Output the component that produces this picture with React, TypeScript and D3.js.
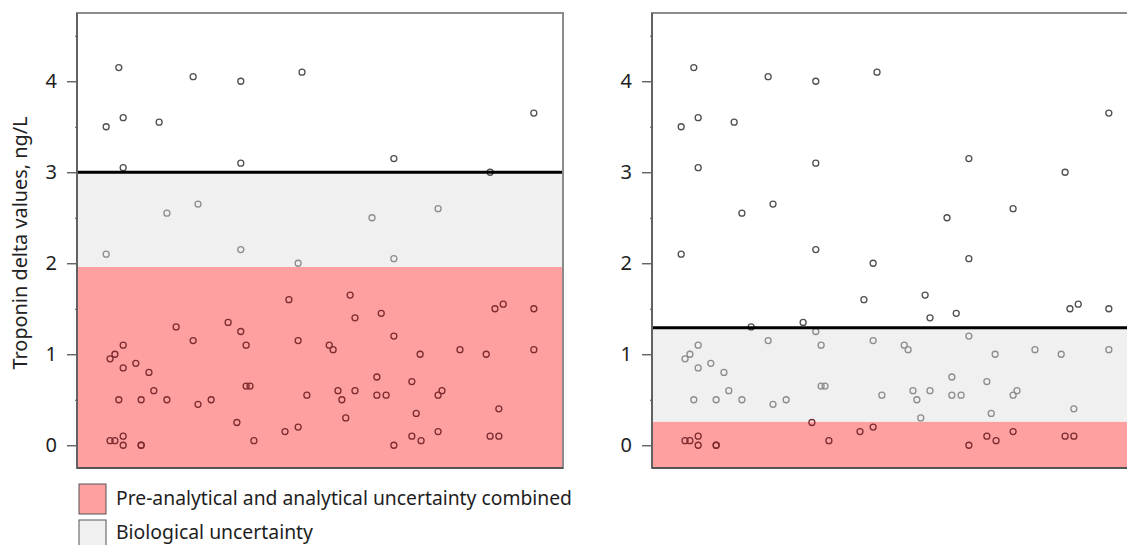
import { axisLeft, scaleLinear, select } from 'd3';
import React, { useEffect, useRef } from 'react';

// case position along the x axis (0-100) and troponin delta value, ng/L
const caseX = [
  6.0, 8.6, 9.5, 9.5, 16.9, 23.9, 33.7, 33.7, 46.3, 65.2, 94.0, 85.0,
  6.0, 18.5, 24.9, 33.7, 45.5, 60.7, 65.2, 74.3, 43.6, 45.5,
  6.8, 7.8, 9.5, 9.5, 12.1, 14.8, 15.8, 8.6, 13.2, 18.5, 20.4, 23.9,
  24.9, 27.6, 31.1, 33.7, 34.8, 34.8, 35.6, 32.9, 36.4, 42.8, 45.5, 47.3,
  6.8, 7.8, 9.5, 9.5, 13.2, 13.2,
  56.2, 57.2, 62.6, 65.2, 51.9, 52.7, 70.6, 78.8, 84.2, 86.0, 87.7, 94.0, 94.0,
  53.7, 54.5, 57.2, 55.3, 61.7, 61.7, 63.6, 68.9, 69.8, 74.3, 75.1,
  65.2, 68.9, 70.8, 74.3, 86.8, 85.0, 86.8,
];
const deltaValues = [
  3.5, 4.15, 3.6, 3.05, 3.55, 4.05, 4.0, 3.1, 4.1, 3.15, 3.65, 3.0,
  2.1, 2.55, 2.65, 2.15, 2.0, 2.5, 2.05, 2.6, 1.6, 1.15,
  0.95, 1.0, 1.1, 0.85, 0.9, 0.8, 0.6, 0.5, 0.5, 0.5, 1.3, 1.15,
  0.45, 0.5, 1.35, 1.25, 1.1, 0.65, 0.65, 0.25, 0.05, 0.15, 0.2, 0.55,
  0.05, 0.05, 0.1, 0.0, 0.0, 0.0,
  1.65, 1.4, 1.45, 1.2, 1.1, 1.05, 1.0, 1.05, 1.0, 1.5, 1.55, 1.5, 1.05,
  0.6, 0.5, 0.6, 0.3, 0.75, 0.55, 0.55, 0.7, 0.35, 0.55, 0.6,
  0.0, 0.1, 0.05, 0.15, 0.4, 0.1, 0.1,
];

// [analytical limit, biological limit] for each panel
const panelLimits = [
  [1.96, 3.0],
  [0.26, 1.29],
];
const panelLeft = [77, 652];
const yTicks = [0, 1, 2, 3, 4];
const yMinorTicks = [0.5, 1.5, 2.5, 3.5, 4.5];
const legendLabels = [
  'Pre-analytical and analytical uncertainty combined',
  'Biological uncertainty',
];
const legendColors = ['#ffa0a0', '#f0f0f0'];

const PANEL_W = 486;
const TOP = 13;
const BOTTOM = 468;

function Panel({ left, limits }) {
  const axisRef = useRef();
  const minorRef = useRef();

  const xScale = scaleLinear().domain([0, 100]).range([left, left + PANEL_W]);
  const yScale = scaleLinear().domain([-0.25, 4.75]).range([BOTTOM, TOP]);
  const [analytical, biological] = limits;

  useEffect(() => {
    const g = select(axisRef.current);
    g.call(
      axisLeft(yScale).tickValues(yTicks).tickSize(9).tickPadding(10).tickFormat(d => String(d))
    );
    g.select('.domain').remove();
    g.selectAll('line').attr('stroke', '#555').attr('stroke-width', 1.3);
    g.selectAll('text')
      .attr('font-size', 20)
      .attr('font-family', 'Noto Sans, sans-serif')
      .attr('fill', '#1e1e1e');

    const m = select(minorRef.current);
    m.call(axisLeft(yScale).tickValues(yMinorTicks).tickSize(2).tickFormat(() => ''));
    m.select('.domain').remove();
    m.selectAll('line').attr('stroke', '#555');
  }, [left]);

  const colorFor = v => {
    if (v < analytical) return '#7c2c31';
    if (v < biological) return '#8c8c8c';
    return '#4f4f4f';
  };

  return (
    <g>
      <rect
        x={left}
        y={yScale(analytical)}
        width={PANEL_W}
        height={BOTTOM - yScale(analytical)}
        fill={legendColors[0]}
      />
      <rect
        x={left}
        y={yScale(biological)}
        width={PANEL_W}
        height={yScale(analytical) - yScale(biological)}
        fill={legendColors[1]}
      />
      {deltaValues.map((v, i) => (
        <circle
          key={i}
          cx={xScale(caseX[i])}
          cy={yScale(v)}
          r={3}
          fill="none"
          stroke={colorFor(v)}
          strokeWidth={1.3}
        />
      ))}
      <line
        x1={left}
        x2={left + PANEL_W}
        y1={yScale(biological)}
        y2={yScale(biological)}
        stroke="#000"
        strokeWidth={3}
      />
      <rect
        x={left}
        y={TOP}
        width={PANEL_W}
        height={BOTTOM - TOP}
        fill="none"
        stroke="#8c8c8c"
        strokeWidth={2}
      />
      <line x1={left} x2={left} y1={TOP} y2={BOTTOM} stroke="#555" strokeWidth={1.5} />
      <line x1={left} x2={left + PANEL_W} y1={BOTTOM} y2={BOTTOM} stroke="#555" strokeWidth={2} />
      <g ref={minorRef} transform={`translate(${left},0)`} />
      <g ref={axisRef} transform={`translate(${left - 1},0)`} />
    </g>
  );
}

export default function App() {
  return (
    <svg
      width={1127}
      height={545}
      style={{ position: 'absolute', left: 0, top: 0, background: '#fff' }}
    >
      <rect width={1127} height={545} fill="#fff" />
      {panelLimits.map((limits, i) => (
        <Panel key={i} left={panelLeft[i]} limits={limits} />
      ))}
      <text
        transform="translate(27,243) rotate(-90)"
        textAnchor="middle"
        fontSize={19}
        fontFamily="Noto Sans, sans-serif"
        fill="#222"
        textLength={253}
        lengthAdjust="spacingAndGlyphs"
      >
        Troponin delta values, ng/L
      </text>
      {legendLabels.map((label, i) => (
        <g key={label} transform={`translate(0,${484 + i * 36})`}>
          <rect x={79} y={0} width={27} height={30} fill={legendColors[i]} stroke="#555" strokeWidth={1} />
          <text
            x={116}
            y={i === 0 ? 21 : 19}
            fontSize={i === 0 ? 20 : 19}
            fontFamily="Noto Sans, sans-serif"
            fill="#1e1e1e"
            textLength={i === 0 ? 456 : 197}
            lengthAdjust="spacingAndGlyphs"
          >
            {label}
          </text>
        </g>
      ))}
    </svg>
  );
}
